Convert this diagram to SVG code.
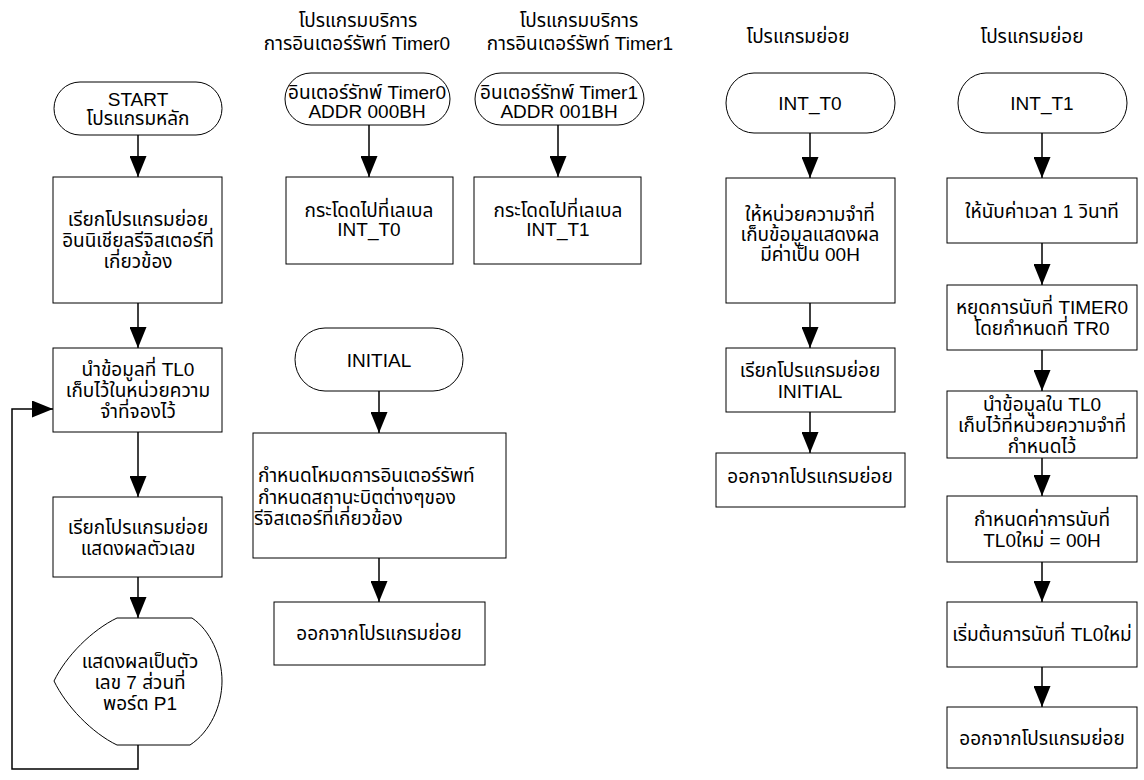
<svg xmlns="http://www.w3.org/2000/svg" width="1144" height="780" viewBox="0 0 1144 780">
<style>
text{font-family:"Liberation Sans","Noto Sans Thai","DejaVu Sans",sans-serif;font-size:19px;fill:#000;text-anchor:middle;dominant-baseline:central}
.l{text-anchor:start}
.s{fill:#fff;stroke:#000;stroke-width:1}
.c{fill:none;stroke:#000;stroke-width:1.5}
</style>
<defs>
<marker id="ah" markerUnits="userSpaceOnUse" markerWidth="21" markerHeight="17" refX="21" refY="8.5" orient="auto">
<path d="M0,0 L21,8.5 L0,17 Z" fill="#000"/>
</marker>
</defs>
<rect width="1144" height="780" fill="#fff"/>

<g id="titles">
<text x="358" y="20">โปรแกรมบริการ</text>
<text x="357" y="43">การอินเตอร์รัพท์ Timer0</text>
<text x="579" y="20">โปรแกรมบริการ</text>
<text x="580" y="43">การอินเตอร์รัพท์ Timer1</text>
<text x="798" y="36">โปรแกรมย่อย</text>
<text x="1032" y="36">โปรแกรมย่อย</text>
</g>

<g id="connectors">
<line class="c" x1="138" y1="135" x2="138" y2="177" marker-end="url(#ah)"/>
<line class="c" x1="138" y1="303" x2="138" y2="348" marker-end="url(#ah)"/>
<line class="c" x1="138" y1="432" x2="138" y2="497" marker-end="url(#ah)"/>
<line class="c" x1="138" y1="577" x2="138" y2="618" marker-end="url(#ah)"/>
<polyline class="c" points="138,745 138,769 12,769 12,409 53,409" marker-end="url(#ah)"/>
<line class="c" x1="369" y1="125" x2="369" y2="177" marker-end="url(#ah)"/>
<line class="c" x1="558" y1="125" x2="558" y2="177" marker-end="url(#ah)"/>
<line class="c" x1="379" y1="391" x2="379" y2="433" marker-end="url(#ah)"/>
<line class="c" x1="379" y1="558" x2="379" y2="602" marker-end="url(#ah)"/>
<line class="c" x1="810" y1="133" x2="810" y2="178" marker-end="url(#ah)"/>
<line class="c" x1="810" y1="303" x2="810" y2="348" marker-end="url(#ah)"/>
<line class="c" x1="810" y1="412" x2="810" y2="453" marker-end="url(#ah)"/>
<line class="c" x1="1042" y1="133" x2="1042" y2="178" marker-end="url(#ah)"/>
<line class="c" x1="1042" y1="243" x2="1042" y2="285" marker-end="url(#ah)"/>
<line class="c" x1="1042" y1="350" x2="1042" y2="391" marker-end="url(#ah)"/>
<line class="c" x1="1042" y1="458" x2="1042" y2="496" marker-end="url(#ah)"/>
<line class="c" x1="1042" y1="562" x2="1042" y2="602" marker-end="url(#ah)"/>
<line class="c" x1="1042" y1="667" x2="1042" y2="707" marker-end="url(#ah)"/>
</g>

<g id="start">
<rect class="s" x="54" y="82" width="168" height="53" rx="26" ry="26.5"/>
<text x="138" y="99">START</text>
<text x="138" y="118">โปรแกรมหลัก</text>
</g>
<g id="init-call">
<rect class="s" x="53" y="177" width="169" height="126"/>
<text x="138" y="219">เรียกโปรแกรมย่อย</text>
<text x="138" y="240">อินนิเชียลรีจิสเตอร์ที่</text>
<text x="138" y="261">เกี่ยวข้อง</text>
</g>
<g id="store-tl0">
<rect class="s" x="53" y="348" width="169" height="84"/>
<text x="138" y="369">นำข้อมูลที่ TL0</text>
<text x="138" y="390">เก็บไว้ในหน่วยความ</text>
<text x="138" y="411">จำที่จองไว้</text>
</g>
<g id="show-call">
<rect class="s" x="53" y="497" width="169" height="80"/>
<text x="138" y="527">เรียกโปรแกรมย่อย</text>
<text x="138" y="548">แสดงผลตัวเลข</text>
</g>
<g id="display">
<path class="s" d="M117,618 L192,618 C210,630 222,656 222,681 C222,706 210,732 190,745 L117,745 C92,733 66,706 54,681 C66,656 92,630 117,618 Z"/>
<text x="140" y="661">แสดงผลเป็นตัว</text>
<text x="140" y="682">เลข 7 ส่วนที่</text>
<text x="140" y="703">พอร์ต P1</text>
</g>

<g id="timer0-vector">
<rect class="s" x="285" y="73" width="165" height="52" rx="26" ry="26"/>
<text x="367" y="92">อินเตอร์รัทพ์ Timer0</text>
<text x="367" y="111">ADDR 000BH</text>
</g>
<g id="jump-t0">
<rect class="s" x="286" y="177" width="167" height="87"/>
<text x="369" y="210">กระโดดไปที่เลเบล</text>
<text x="369" y="229">INT_T0</text>
</g>
<g id="timer1-vector">
<rect class="s" x="475" y="73" width="169" height="52" rx="26" ry="26"/>
<text x="559" y="92">อินเตอร์รัทพ์ Timer1</text>
<text x="559" y="111">ADDR 001BH</text>
</g>
<g id="jump-t1">
<rect class="s" x="474" y="177" width="167" height="87"/>
<text x="558" y="210">กระโดดไปที่เลเบล</text>
<text x="558" y="229">INT_T1</text>
</g>

<g id="initial">
<rect class="s" x="295" y="328" width="168" height="63" rx="30" ry="31.5"/>
<text x="379" y="360">INITIAL</text>
</g>
<g id="initial-set">
<rect class="s" x="253" y="433" width="253" height="125"/>
<text class="l" x="258" y="475">กำหนดโหมดการอินเตอร์รัพท์</text>
<text class="l" x="258" y="497">กำหนดสถานะบิตต่างๆของ</text>
<text class="l" x="254" y="518">รีจิสเตอร์ที่เกี่ยวข้อง</text>
</g>
<g id="initial-exit">
<rect class="s" x="274" y="602" width="211" height="63"/>
<text x="379" y="633">ออกจากโปรแกรมย่อย</text>
</g>

<g id="int-t0">
<rect class="s" x="726" y="73" width="169" height="60" rx="28" ry="30"/>
<text x="810" y="103">INT_T0</text>
</g>
<g id="clear-mem">
<rect class="s" x="726" y="178" width="169" height="125"/>
<text x="810" y="214">ให้หน่วยความจำที่</text>
<text x="810" y="234">เก็บข้อมูลแสดงผล</text>
<text x="810" y="254">มีค่าเป็น 00H</text>
</g>
<g id="call-initial">
<rect class="s" x="726" y="348" width="169" height="64"/>
<text x="810" y="370">เรียกโปรแกรมย่อย</text>
<text x="810" y="391">INITIAL</text>
</g>
<g id="t0-exit">
<rect class="s" x="716" y="453" width="189" height="54"/>
<text x="810" y="476">ออกจากโปรแกรมย่อย</text>
</g>

<g id="int-t1">
<rect class="s" x="958" y="73" width="169" height="60" rx="28" ry="30"/>
<text x="1042" y="103">INT_T1</text>
</g>
<g id="count-1s">
<rect class="s" x="947" y="178" width="190" height="65"/>
<text x="1042" y="211">ให้นับค่าเวลา 1 วินาที</text>
</g>
<g id="stop-timer0">
<rect class="s" x="947" y="285" width="190" height="65"/>
<text x="1042" y="307">หยุดการนับที่ TIMER0</text>
<text x="1042" y="328">โดยกำหนดที่ TR0</text>
</g>
<g id="store-tl0-mem">
<rect class="s" x="947" y="391" width="190" height="67"/>
<text x="1042" y="404">นำข้อมูลใน TL0</text>
<text x="1042" y="425">เก็บไว้ที่หน่วยความจำที่</text>
<text x="1042" y="446">กำหนดไว้</text>
</g>
<g id="reset-tl0">
<rect class="s" x="947" y="496" width="190" height="66"/>
<text x="1042" y="519">กำหนดค่าการนับที่</text>
<text x="1042" y="540">TL0ใหม่ = 00H</text>
</g>
<g id="restart">
<rect class="s" x="947" y="602" width="190" height="65"/>
<text x="1042" y="634">เริ่มต้นการนับที่ TL0ใหม่</text>
</g>
<g id="t1-exit">
<rect class="s" x="947" y="707" width="190" height="61"/>
<text x="1042" y="738">ออกจากโปรแกรมย่อย</text>
</g>
</svg>
